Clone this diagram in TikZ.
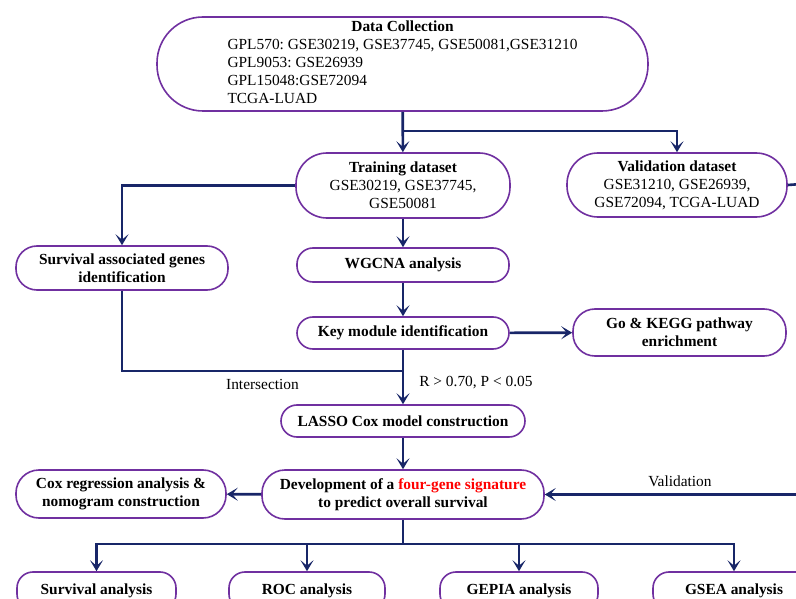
\documentclass[tikz,border=0pt]{standalone}
\usepackage{fontspec}
\setmainfont{Liberation Serif}
\usepackage{tikz}
\usetikzlibrary{calc}
\usetikzlibrary{arrows.meta,shapes}
\usetikzlibrary{positioning}
\usepackage{xcolor}
\definecolor{boxpurple}{RGB}{112,48,160}
\definecolor{linenavy}{RGB}{24,38,104}
\definecolor{sigred}{RGB}{255,0,0}
\frenchspacing
\tikzset{
  flowbox/.style={draw=boxpurple,line width=1.6pt,fill=white,rounded corners=16pt,
    align=center,inner sep=0pt,font=\bfseries},
  link/.style={draw=linenavy,line width=2.6pt},
  arr/.style={link,-{Stealth[length=11pt,width=13pt,inset=5.5pt]}},
}

\begin{document}
\begin{tikzpicture}[x=1pt,y=-1pt]
        \fontsize{15.4}{18}\selectfont
        \useasboundingbox (0,0) rectangle (796,599);
        \clip (0,0) rectangle (796,599);
        \node (dc) [flowbox,rounded corners=46pt,font=\normalfont,minimum width=491pt,minimum height=94pt]
          at (402.5,64) {\begin{tabular}{@{}l@{}}\multicolumn{1}{c}{\textbf{Data Collection}}\\
          GPL570: GSE30219, GSE37745, GSE50081,GSE31210\\
          GPL9053: GSE26939\\
          GPL15048:GSE72094\\
          TCGA-LUAD\end{tabular}};
        \node (train) [flowbox,rounded corners=31pt,minimum width=214pt,minimum height=65pt]
          at (403,185.5) {Training dataset\\\normalfont GSE30219, GSE37745,\\\normalfont GSE50081};
        \node (val) [flowbox,rounded corners=31pt,minimum width=220pt,minimum height=64pt]
          at (677,185) {Validation dataset\\\normalfont GSE31210, GSE26939,\\\normalfont GSE72094, TCGA-LUAD};
        \node (surv) [flowbox,rounded corners=21pt,minimum width=212pt,minimum height=44pt]
          at (122,268) {Survival associated genes\\identification};
        \node (wgcna) [flowbox,minimum width=212pt,minimum height=34pt] at (403,265) {WGCNA analysis};
        \node (key) [flowbox,minimum width=212pt,minimum height=32pt] at (403,333) {Key module identification};
        \node (go) [flowbox,rounded corners=22pt,minimum width=213pt,minimum height=47pt]
          at (679.5,332.5) {Go \& KEGG pathway\\enrichment};
        \node (lasso) [flowbox,minimum width=244pt,minimum height=32pt] at (403,421) {LASSO Cox model construction};
        \node (dev) [flowbox,rounded corners=23pt,minimum width=282pt,minimum height=49pt]
          at (403,494.5) {Development of a \textcolor{sigred}{four-gene signature}\\to predict overall survival};
        \node (cox) [flowbox,rounded corners=23pt,minimum width=210pt,minimum height=48pt]
          at (121,494) {Cox regression analysis \&\\nomogram construction};
        \foreach \i/\x/\w/\t in {1/96.5/159/Survival analysis,2/307/156/ROC analysis,
            3/519/158/GEPIA analysis,4/734/162/GSEA analysis}
          \node (res\i) [flowbox,minimum width=\w pt,minimum height=38pt] at (\x,591) {\t};

        \coordinate (split) at (403,131);
        \coordinate (join) at (403,371);
        \coordinate (vturn) at (815,183);
        \coordinate (fork) at (403,544);
        \draw[arr] (dc) -- (train);
        \draw[arr] (split) -| (val);
        \draw[arr] (train.west) -| (surv);
        \draw[arr] (train) -- (wgcna);
        \draw[arr] (wgcna) -- (key);
        \draw[arr] (key) -- (go);
        \draw[arr] (key) -- (lasso);
        \draw[link] (surv) |- node[pos=0.75,below=2pt,text=black] {Intersection} (join);
        \node (cut) [anchor=west] at (414,383) {R > 0.70, P < 0.05};
        \draw[arr] (lasso) -- (dev);
        \draw[arr] (dev) -- (cox);
        \draw[arr] (val.east) -- (vturn) |- node[pos=0.75,above=1pt,text=black] {Validation} (dev.east);
        \draw[link] (dev) -- (fork);
        \foreach \i in {1,...,4}
          \draw[arr] (fork) -| (res\i);
\end{tikzpicture}
\end{document}
